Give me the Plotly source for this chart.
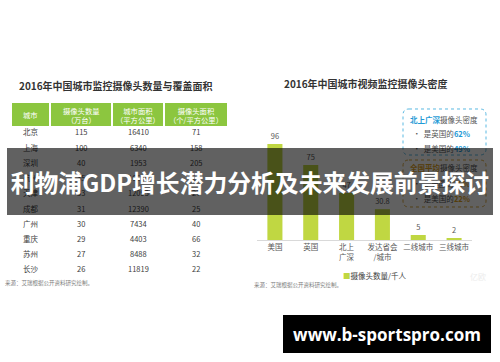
import plotly.graph_objects as go

W, H = 500, 362

def px(x):
    return x / W

def py(y):
    return 1 - y / H

# ---------------- data ----------------
table_header = ["城市", "摄像头数量<br>（万台）", "城市面积<br>（平方公里）", "摄像头面积<br>（个/平方公里）"]
table_cities = ["北京", "上海", "深圳", "杭州", "天津", "成都", "广州", "重庆", "苏州", "长沙"]
table_cameras = [115, 100, 40, 35, 33, 31, 30, 29, 27, 26]
table_area = [16410, 6340, 1953, 16596, 12093, 12390, 7434, 4403, 8488, 11819]
table_density = [71, 158, 205, 21, 27, 25, 40, 66, 32, 22]

bar_categories = ["美国", "英国", "北上<br>广深", "发达省会<br>/城市", "二线城市", "三线城市"]
bar_values = [96, 75, 47, 30.8, 5, 2]
bar_labels = ["96", "75", "47", "30.8", "5", "2"]

left_title = "2016年中国城市监控摄像头数量与覆盖面积"
right_title = "2016年中国城市视频监控摄像头密度"
legend_name = "摄像头数量/千人"
source_text = "来源：艾瑞根据公开资料研究绘制。"
banner_text = "利物浦GDP增长潜力分析及未来发展前景探讨"
url_text = "www.b-sportspro.com"

CJK = "Noto Sans CJK SC"
GREEN_HDR = "#8cc63f"
BAR = "#c0d742"
GRAY = "#404040"
BLUE = "#1e9ad6"
GOLD = "#e0a21e"

# table geometry (pixels)
col_edges = [(12, 49), (51, 111), (113, 163), (165, 227)]
hdr_top, hdr_bot = 103, 126
row0_y, row_step = 132, 15.2

fig = go.Figure()

fig.add_trace(go.Bar(
    x=bar_categories,
    y=bar_values,
    text=bar_labels,
    textposition="outside",
    textfont=dict(family=CJK, size=7.5, color="#595959"),
    marker=dict(color=BAR, line=dict(width=0)),
    cliponaxis=False,
    showlegend=False,
    hoverinfo="skip",
))

def rrect(x0, y0, x1, y1, r):
    pts = [
        ("M", [(x0 + r, y0)]),
        ("L", [(x1 - r, y0)]),
        ("Q", [(x1, y0), (x1, y0 + r)]),
        ("L", [(x1, y1 - r)]),
        ("Q", [(x1, y1), (x1 - r, y1)]),
        ("L", [(x0 + r, y1)]),
        ("Q", [(x0, y1), (x0, y1 - r)]),
        ("L", [(x0, y0 + r)]),
        ("Q", [(x0, y0), (x0 + r, y0)]),
    ]
    s = ""
    for cmd, ps in pts:
        s += cmd + " " + " ".join(f"{px(a):.5f},{py(b):.5f}" for a, b in ps) + " "
    return s + "Z"

shapes = [
    dict(type="path", xref="paper", yref="paper", path=rrect(403, 109, 486, 155, 6),
         line=dict(color="#5bb9e2", width=1, dash="dot")),
    dict(type="path", xref="paper", yref="paper", path=rrect(403, 160, 486, 207, 6),
         line=dict(color="#d9a63a", width=1, dash="dot")),
]

def ann(x, y, text, size=7.5, color=GRAY, xanchor="left", **kw):
    d = dict(x=px(x), y=py(y), xref="paper", yref="paper", text=text, showarrow=False,
             xanchor=xanchor, yanchor="middle", font=dict(family=CJK, size=size, color=color))
    d.update(kw)
    return d

annotations = []

# table header cells and body
columns = [table_cities, table_cameras, table_area, table_density]
for (x0, x1), head, col in zip(col_edges, table_header, columns):
    shapes.append(dict(type="rect", xref="paper", yref="paper",
                       x0=px(x0), x1=px(x1), y0=py(hdr_bot), y1=py(hdr_top),
                       fillcolor=GREEN_HDR, line=dict(width=0), layer="below"))
    cx = (x0 + x1) / 2
    annotations.append(ann(cx, (hdr_top + hdr_bot) / 2 + 0.5, head, size=7.3, color="white",
                           xanchor="center"))
    for i, v in enumerate(col):
        annotations.append(ann(cx, row0_y + i * row_step, str(v), size=7.5, color=GRAY,
                               xanchor="center"))

annotations += [
    ann(17, 85, f"<b>{left_title}</b>", size=10, color="#333333"),
    ann(282, 83, f"<b>{right_title}</b>", size=10, color="#333333"),
    ann(3, 283, source_text, size=5.5, color="#808080"),
    ann(252, 285, source_text, size=5.5, color="#808080"),
    ann(341, 275, f"<span style='color:{BAR}'>■</span>{legend_name}", size=7.5, color=GRAY),
    ann(468, 276, "亿欧", size=8, color="#ececec"),
    # box 1
    ann(408, 119, f"<b><span style='color:{BLUE}'>北上广深</span></b>摄像头密度", size=7.5, color="#555555"),
    ann(411, 133, f"•  是英国的<b><span style='color:{BLUE}'>62%</span></b>", size=7.5, color="#555555"),
    ann(411, 148, f"•  是美国的<b><span style='color:{BLUE}'>49%</span></b>", size=7.5, color="#555555"),
    # box 2
    ann(408, 168, f"<b><span style='color:{GOLD}'>全国平均</span></b>摄像头密度", size=7.5, color="#555555"),
    ann(411, 183, f"•  是英国的<b><span style='color:{GOLD}'>28%</span></b>", size=7.5, color="#555555"),
    ann(411, 198, f"•  是美国的<b><span style='color:{GOLD}'>22%</span></b>", size=7.5, color="#555555"),
    # banner
    dict(x=px(250), y=py(181.5), xref="paper", yref="paper", showarrow=False,
         xanchor="center", yanchor="middle", width=486, height=67,
         bgcolor="rgba(0,0,0,0.62)", borderpad=0, borderwidth=0,
         text=f"<b>{banner_text}</b>", font=dict(family=CJK, size=23.8, color="white")),
    # url box
    dict(x=px(387), y=py(334), xref="paper", yref="paper", showarrow=False,
         xanchor="center", yanchor="middle", width=208, height=38,
         bgcolor="black", borderpad=0, borderwidth=0,
         text=f"<b>{url_text}</b>", font=dict(family="Open Sans", size=17, color="white")),
]

fig.update_layout(
    width=W, height=H,
    margin=dict(l=0, r=0, t=0, b=0),
    paper_bgcolor="white", plot_bgcolor="rgba(0,0,0,0)",
    bargap=0.58,
    shapes=shapes,
    annotations=annotations,
    xaxis=dict(domain=[px(257), px(472)], showline=True, linecolor="#d9d9d9", linewidth=1,
               showgrid=False, zeroline=False, ticks="", fixedrange=True,
               tickfont=dict(family=CJK, size=7.5, color="#595959")),
    yaxis=dict(domain=[py(240), py(120)], range=[0, 120], visible=False, fixedrange=True),
    showlegend=False,
    hovermode=False,
)

fig.write_html("out.html", config={"displayModeBar": False, "staticPlot": True},
               post_script="document.body.style.margin='0px';")
